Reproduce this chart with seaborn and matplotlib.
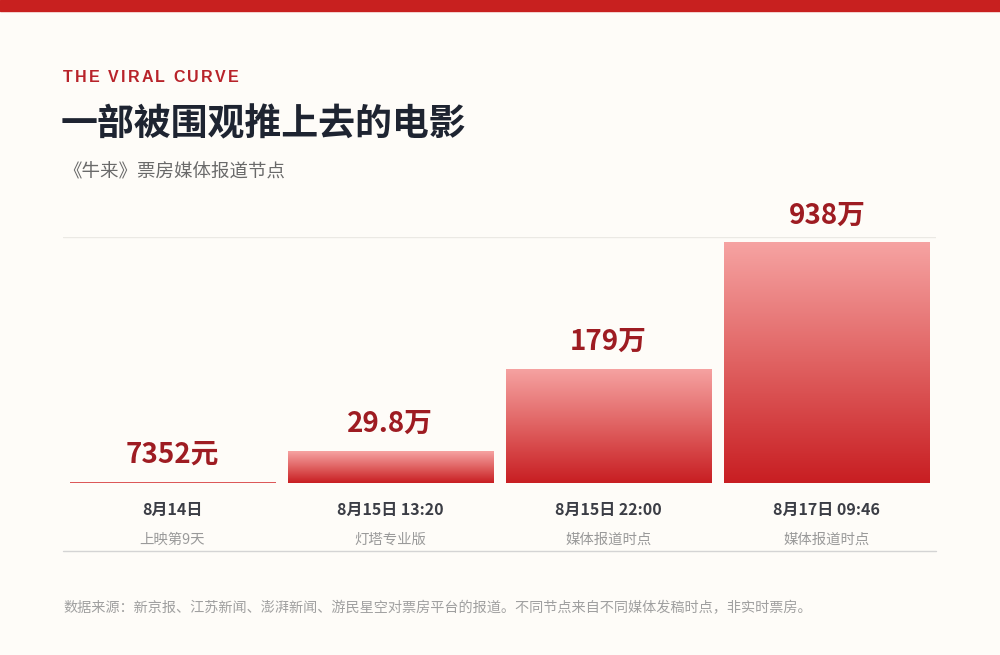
import numpy as np
import matplotlib
matplotlib.use('Agg')
import matplotlib.pyplot as plt
import seaborn as sns
from matplotlib.patches import Rectangle
from matplotlib.lines import Line2D

sns.set_theme(style='white')
plt.rcParams['font.family'] = ['Noto Sans CJK SC', 'DejaVu Sans']

# data
dates = ['8月14日', '8月15日 13:20', '8月15日 22:00', '8月17日 09:46']
notes = ['上映第9天', '灯塔专业版', '媒体报道时点', '媒体报道时点']
box_office = [7352, 298000, 1790000, 9380000]
value_labels = ['7352元', '29.8万', '179万', '938万']

BG = '#fefcf8'
RED = '#c8201f'
W, H = 1000, 655
C = 7e5  # compression constant of the value axis

fig = plt.figure(figsize=(10, 6.55), dpi=100, facecolor=BG)
ax = fig.add_axes([63 / W, 1 - 483 / H, 873 / W, 246 / H])
ax.set_facecolor(BG)

sns.barplot(x=dates, y=box_office, ax=ax, width=0.94, color=RED, saturation=1)
ax.set_yscale('function', functions=(lambda v: np.log1p(np.clip(v, 0, None) / C),
                                     lambda u: np.expm1(u) * C))
ax.set_ylim(0, 1e7)
ax.set_xlim(-0.5, 3.5)
ax.set_yticks([1e7])
ax.set_yticklabels([])
ax.yaxis.grid(True, color='#ebe9e4', lw=1)
ax.tick_params(axis='both', length=0)
for s in ax.spines.values():
    s.set_visible(False)
ax.set_xticklabels([])
ax.set_xlabel('')

# gradient fill inside each bar
fig.canvas.draw()
grad = np.linspace(0, 1, 256).reshape(-1, 1)
cmap = matplotlib.colors.LinearSegmentedColormap.from_list('g', ['#f6a3a2', '#e06262', '#c81e22'])
for p in ax.patches:
    bb = p.get_window_extent().transformed(ax.transAxes.inverted())
    p.set_facecolor('none')
    p.set_edgecolor('none')
    im = ax.imshow(grad, cmap=cmap, aspect='auto', transform=ax.transAxes,
                   extent=[bb.x0, bb.x1, bb.y0, bb.y1], zorder=2, interpolation='bicubic')
    im.set_clip_path(p)
ax.set_xlim(-0.5, 3.5)
ax.set_ylim(0, 1e7)

# labels
for i, (v, lab) in enumerate(zip(box_office, value_labels)):
    ax.annotate(lab, (i, v), xytext=(0, 13.7), textcoords='offset points',
                ha='center', va='baseline', fontsize=20, fontweight='bold', color='#9e1c22')
    ax.annotate(dates[i], (i, 0), xycoords=('data', 'axes fraction'), xytext=(0, -19.5),
                textcoords='offset points', ha='center', va='center',
                fontsize=11.5, fontweight='bold', color='#3b3d45')
    ax.annotate(notes[i], (i, 0), xycoords=('data', 'axes fraction'), xytext=(0, -41),
                textcoords='offset points', ha='center', va='center',
                fontsize=10.4, color='#9a9a9a')

fig.add_artist(Line2D([63 / W, 936 / W], [1 - 551 / H, 1 - 551 / H], color='#d4d4d4', lw=1))
fig.add_artist(Rectangle((0, 1 - 11 / H), 1, 11 / H, color=RED, transform=fig.transFigure))

# letter-spaced kicker
renderer = fig.canvas.get_renderer()
x = 63
for ch in 'THE VIRAL CURVE':
    if ch == ' ':
        x += 7
        continue
    t = fig.text(x / W, 1 - 77 / H, ch, fontsize=11.5, fontweight='bold', color='#b8232a',
                 va='center', ha='left', family=['Liberation Sans', 'DejaVu Sans'])
    x += t.get_window_extent(renderer).width + 2.1

fig.text(61 / W, 1 - 125 / H, '一部被围观推上去的电影', fontsize=26.6, fontweight='bold',
         color='#1e2431', va='center', ha='left')
fig.text(63 / W, 1 - 172 / H, '《牛来》票房媒体报道节点', fontsize=13.3,
         color='#6a6a6a', va='center', ha='left')
fig.text(63 / W, 1 - 608 / H,
         '数据来源：新京报、江苏新闻、澎湃新闻、游民星空对票房平台的报道。不同节点来自不同媒体发稿时点，非实时票房。',
         fontsize=10.2, color='#a0a0a0', va='center', ha='left')

fig.savefig('out.png', dpi=100, facecolor=BG)
